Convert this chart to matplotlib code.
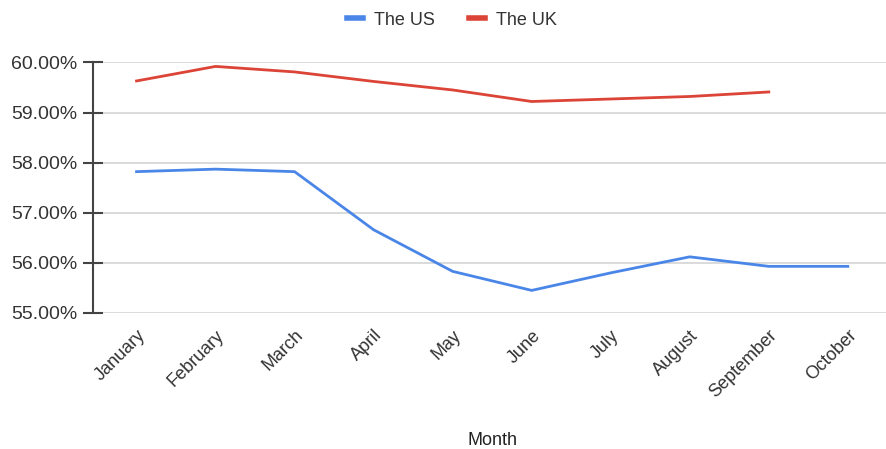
import matplotlib
matplotlib.use("Agg")
from matplotlib import pyplot as plt
from matplotlib.ticker import FuncFormatter

months = ["January", "February", "March", "April", "May", "June",
          "July", "August", "September", "October"]
us = [57.82, 57.87, 57.82, 56.66, 55.83, 55.45, 55.80, 56.12, 55.93, 55.93]
uk = [59.63, 59.92, 59.81, 59.62, 59.45, 59.22, 59.27, 59.32, 59.41]

plt.rcParams["font.family"] = ["Liberation Sans", "DejaVu Sans"]

fig = plt.figure(figsize=(8.86, 4.49), dpi=100)
ax = fig.add_axes([0.1095, 0.303, 0.892, 0.558])

ax.plot(range(len(us)), us, color="#4a86e8", lw=2.0, label="The US")
ax.plot(range(len(uk)), uk, color="#db4437", lw=2.0, label="The UK")

ax.set_xlim(-0.5, len(months) - 0.5)
ax.set_ylim(55, 60)
ax.set_yticks([55, 56, 57, 58, 59, 60])
ax.yaxis.set_major_formatter(FuncFormatter(lambda v, p: f"{v:.2f}%"))
ax.grid(axis="y", color="#d4d4d4", lw=1.2)
ax.set_axisbelow(True)

for s in ("top", "right", "bottom"):
    ax.spines[s].set_visible(False)
ax.spines["left"].set_color("#444444")
ax.spines["left"].set_linewidth(1.5)
ax.spines["left"].set_position(("outward", 3))

ax.tick_params(axis="y", direction="inout", length=14, width=1.5, color="#444444",
               labelsize=14, labelcolor="#333333", pad=4)
ax.set_xticks(range(len(months)))
ax.set_xticklabels(months, rotation=45, ha="right", rotation_mode="anchor",
                   fontsize=13, color="#333333")
ax.tick_params(axis="x", length=0, pad=10)

ax.set_xlabel("Month", fontsize=13, color="#222222", labelpad=22)

fig.legend(loc="upper center", bbox_to_anchor=(0.51, 1.01), ncol=2, frameon=False,
           fontsize=13, handlelength=0.9, handletextpad=0.6, columnspacing=1.9,
           labelcolor="#333333")
for line in fig.legends[0].get_lines():
    line.set_linewidth(4)

fig.savefig("out.png", dpi=100, facecolor="white")
